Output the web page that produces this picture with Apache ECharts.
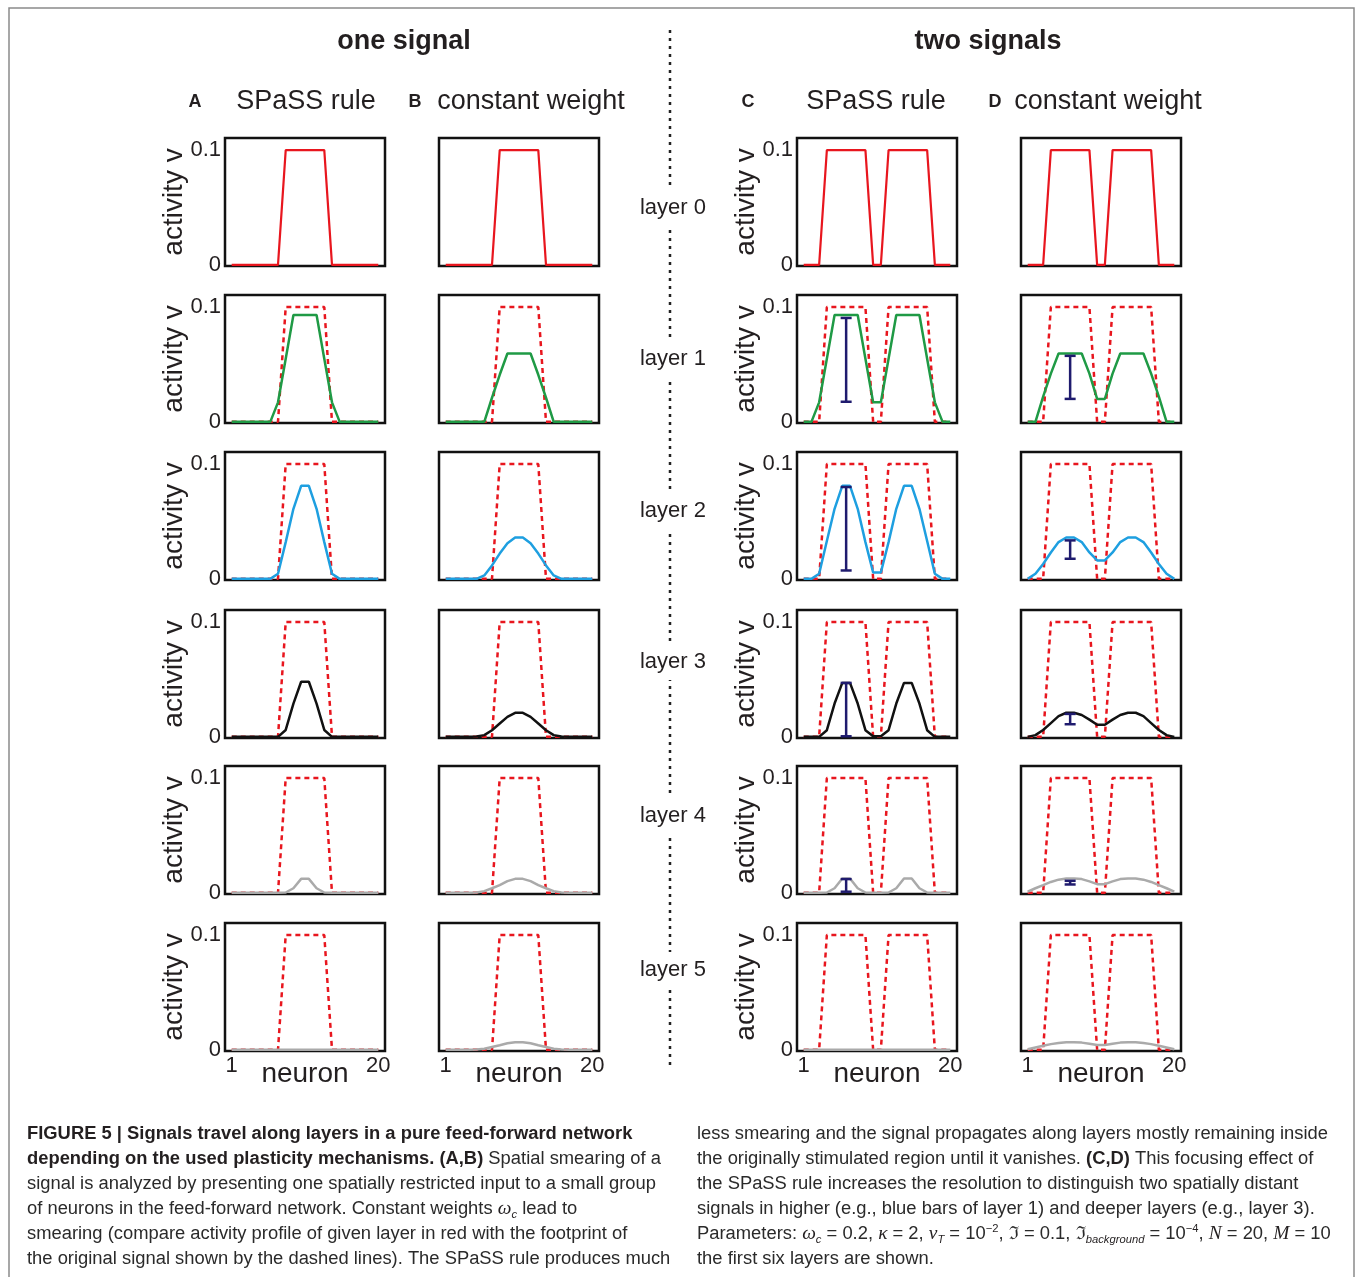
<!DOCTYPE html>
<html><head><meta charset="utf-8">
<script src="https://cdn.jsdelivr.net/npm/echarts@6/dist/echarts.min.js"></script>
<style>html,body{margin:0;padding:0;background:#fff}#c{width:1355px;height:1277px}</style>
</head><body><div id="c"></div>
<script>
// ---------------- data ----------------
const neurons = [1,2,3,4,5,6,7,8,9,10,11,12,13,14,15,16,17,18,19,20];
const footOne = [0,0,0,0,0,0,0,0.1,0.1,0.1,0.1,0.1,0.1,0,0,0,0,0,0,0];
const footTwo = [0,0,0,0.1,0.1,0.1,0.1,0.1,0.1,0,0,0.1,0.1,0.1,0.1,0.1,0.1,0,0,0];

const A1 = [0,0,0,0,0,0,0.017,0.055,0.093,0.093,0.093,0.093,0.055,0.017,0,0,0,0,0,0];
const A2 = [0,0,0,0,0,0,0.0044,0.032,0.061,0.081,0.081,0.061,0.032,0.0044,0,0,0,0,0,0];
const A3 = [0,0,0,0,0,0,0,0.006,0.029,0.048,0.048,0.029,0.006,0,0,0,0,0,0,0];
const A4 = [0,0,0,0,0,0,0,0.0003,0.004,0.0122,0.0122,0.004,0.0003,0,0,0,0,0,0,0];
const A5 = [0,0,0,0,0,0,0,0,0,0,0,0,0,0,0,0,0,0,0,0];

const B1 = [0,0,0,0,0,0,0.021,0.041,0.0595,0.0595,0.0595,0.0595,0.041,0.021,0,0,0,0,0,0];
const B2 = [0,0,0,0,0,0.003,0.0117,0.022,0.031,0.036,0.036,0.031,0.022,0.0117,0.003,0,0,0,0,0];
const B3 = [0,0,0,0,0.0003,0.0015,0.0058,0.0116,0.0174,0.0209,0.0209,0.0174,0.0116,0.0058,0.0015,0.0003,0,0,0,0];
const B4 = [0,0,0,0,0.0004,0.0015,0.004,0.0067,0.0102,0.0122,0.0122,0.0102,0.0067,0.004,0.0015,0.0004,0,0,0,0];
const B5 = [0,0,0,0.0001,0.0004,0.001,0.0025,0.004,0.0057,0.0067,0.0067,0.0057,0.004,0.0025,0.001,0.0004,0.0001,0,0,0];

const C1 = [0,0,0.017,0.055,0.093,0.093,0.093,0.093,0.055,0.017,0.017,0.055,0.093,0.093,0.093,0.093,0.055,0.017,0,0];
const C2 = [0,0,0.0044,0.033,0.061,0.081,0.081,0.061,0.032,0.0055,0.0055,0.032,0.061,0.081,0.081,0.061,0.033,0.0044,0,0];
const C3 = [0,0,0,0.0058,0.029,0.047,0.047,0.029,0.0058,0.0006,0.0006,0.0058,0.029,0.047,0.047,0.029,0.0058,0,0,0];
const C4 = [0,0,0,0.0003,0.004,0.0125,0.0125,0.004,0.0003,0,0,0.0003,0.004,0.0125,0.0125,0.004,0.0003,0,0,0];
const C5 = [0,0,0,0,0,0,0,0,0,0,0,0,0,0,0,0,0,0,0,0];

const D1 = [0,0,0.022,0.042,0.0595,0.0595,0.0595,0.0595,0.042,0.02,0.02,0.042,0.0595,0.0595,0.0595,0.0595,0.042,0.022,0,0];
const D2 = [0,0.0044,0.013,0.023,0.032,0.036,0.036,0.032,0.023,0.016,0.016,0.023,0.032,0.036,0.036,0.032,0.023,0.013,0.0044,0];
const D3 = [0,0.0015,0.006,0.012,0.018,0.021,0.021,0.019,0.015,0.0105,0.0105,0.015,0.019,0.021,0.021,0.018,0.012,0.006,0.0015,0];
const D4 = [0.001,0.004,0.0067,0.0095,0.0115,0.0125,0.0125,0.012,0.01,0.0076,0.0076,0.01,0.012,0.0125,0.0125,0.0115,0.0095,0.0067,0.004,0.001];
const D5 = [0.0005,0.002,0.0035,0.005,0.006,0.0067,0.0067,0.0063,0.0054,0.0043,0.0043,0.0054,0.0063,0.0067,0.0067,0.006,0.005,0.0035,0.002,0.0005];

// error bars at neuron 6.5: [top, bottom] for layers 1..4
const errX = 6.5;
const errC = [[0.0905,0.0175],[0.080,0.0073],[0.047,0.0005],[0.012,0.001]];
const errD = [[0.0575,0.020],[0.0335,0.0175],[0.020,0.011],[0.0105,0.0073]];

const yTickValues = [0, 0.1];
const xTickValues = [1, 20];
const layerNames = ['layer 0','layer 1','layer 2','layer 3','layer 4','layer 5'];
const groupTitles = ['one signal','two signals'];
const panelLetters = ['A','B','C','D'];
const panelTitles = ['SPaSS rule','constant weight','SPaSS rule','constant weight'];
const yAxisName = 'activity v';
const xAxisName = 'neuron';

const captionLeft = [
 '{b|FIGURE 5 | Signals travel along layers in a pure feed-forward network}',
 '{b|depending on the used plasticity mechanisms. (A,B)} Spatial smearing of a',
 'signal is analyzed by presenting one spatially restricted input to a small group',
 'of neurons in the feed-forward network. Constant weights {i|ω}{sub|c} lead to',
 'smearing (compare activity profile of given layer in red with the footprint of',
 'the original signal shown by the dashed lines). The SPaSS rule produces much'
];
const captionRight = [
 'less smearing and the signal propagates along layers mostly remaining inside',
 'the originally stimulated region until it vanishes. {b|(C,D)} This focusing effect of',
 'the SPaSS rule increases the resolution to distinguish two spatially distant',
 'signals in higher (e.g., blue bars of layer 1) and deeper layers (e.g., layer 3).',
 'Parameters: {i|ω}{sub|c} = 0.2, {i|κ} = 2, {i|v}{sub|T} = 10{sup|−2}, ℑ = 0.1, ℑ{subi|background} = 10{sup|−4}, {i|N} = 20, {i|M} = 10',
 'the first six layers are shown.'
];

// ---------------- layout / style ----------------
const FONT = '"Liberation Sans", Arial, Helvetica, sans-serif';
const SERIF = '"Liberation Serif", "Times New Roman", serif';
const TXT = '#231f20';
const colLeft = [225, 439, 797, 1021];
const rowTop = [138, 295, 452, 610, 766, 923];
const PW = 160, PH = 128;
const actColors = [null, '#1f9a45', '#1e9fe0', '#111111', '#aaaaaa', '#aaaaaa'];
const RED = '#e8161e';
const NAVY = '#1f1b6e';

const columns = [
  {foot: footOne, layers: [null, A1, A2, A3, A4, A5], err: null, yLab: true},
  {foot: footOne, layers: [null, B1, B2, B3, B4, B5], err: null, yLab: false},
  {foot: footTwo, layers: [null, C1, C2, C3, C4, C5], err: errC, yLab: true},
  {foot: footTwo, layers: [null, D1, D2, D3, D4, D5], err: errD, yLab: false}
];

const grids = [], xAxes = [], yAxes = [], series = [];
let gi = 0;
for (let r = 0; r < 6; r++) {
  for (let c = 0; c < 4; c++) {
    const col = columns[c];
    grids.push({left: colLeft[c], top: rowTop[r], width: PW, height: PH, show: true,
      borderColor: '#111', borderWidth: 2.5, backgroundColor: 'transparent', containLabel: false});
    xAxes.push({type: 'value', gridIndex: gi, min: 0.13, max: 20.87,
      axisLine: {show: false}, axisTick: {show: false}, splitLine: {show: false},
      axisLabel: {show: r === 5, customValues: xTickValues, fontSize: 22, color: TXT, margin: 4, fontFamily: FONT},
      name: r === 5 ? xAxisName : '', nameLocation: 'middle', nameGap: 9, nameMoveOverlap: false,
      nameTextStyle: {fontSize: 28, color: TXT, fontFamily: FONT, verticalAlign: 'top'}});
    yAxes.push({type: 'value', gridIndex: gi, min: -0.001, max: 0.1105,
      axisLine: {show: false}, axisTick: {show: false}, splitLine: {show: false},
      axisLabel: {show: col.yLab, customValues: yTickValues, fontSize: 22, color: TXT, margin: 4, fontFamily: FONT,
        formatter: v => (v === 0 ? '0' : String(v))},
      name: col.yLab ? yAxisName : '', nameLocation: 'middle', nameRotate: 90, nameGap: 37, nameMoveOverlap: false,
      nameTextStyle: {fontSize: 28, color: TXT, fontFamily: FONT}});
    series.push({type: 'line', xAxisIndex: gi, yAxisIndex: gi, silent: true, animation: false,
      symbol: 'none', z: 2,
      data: neurons.map((x, k) => [x, col.foot[k]]),
      lineStyle: {color: RED, width: r === 0 ? 2.2 : 2.5, type: r === 0 ? 'solid' : [5, 4]}});
    const act = col.layers[r];
    if (act) {
      series.push({type: 'line', xAxisIndex: gi, yAxisIndex: gi, silent: true, animation: false,
        symbol: 'none', z: 3,
        data: neurons.map((x, k) => [x, act[k]]),
        lineStyle: {color: actColors[r], width: 2.5}});
    }
    if (col.err && r >= 1 && r <= 4) {
      const e = col.err[r - 1];
      series.push({type: 'custom', xAxisIndex: gi, yAxisIndex: gi, silent: true, animation: false, z: 4,
        data: [[errX, e[0], e[1]]], encode: {x: 0, y: [1, 2]},
        renderItem: function (params, api) {
          const p1 = api.coord([api.value(0), api.value(1)]);
          const p2 = api.coord([api.value(0), api.value(2)]);
          const hw = 5.5;
          const st = {stroke: NAVY, lineWidth: 2.5};
          return {type: 'group', children: [
            {type: 'line', shape: {x1: p1[0], y1: p1[1], x2: p2[0], y2: p2[1]}, style: st},
            {type: 'line', shape: {x1: p1[0] - hw, y1: p1[1], x2: p1[0] + hw, y2: p1[1]}, style: st},
            {type: 'line', shape: {x1: p2[0] - hw, y1: p2[1], x2: p2[0] + hw, y2: p2[1]}, style: st}
          ]};
        }});
    }
    gi++;
  }
}

// ---------------- free text ----------------
const graphics = [];
graphics.push({type: 'polyline', silent: true, shape: {points: [[9, 1277], [9, 8], [1354, 8], [1354, 1277]]},
  style: {stroke: '#8a8a8a', lineWidth: 1.5, fill: null}});
graphics.push({type: 'line', silent: true, z: 1, shape: {x1: 670, y1: 30, x2: 670, y2: 1066},
  style: {stroke: '#222', lineWidth: 2.5, lineDash: [3, 5]}});
const layerY = [208, 359, 511, 662, 816, 970];
layerNames.forEach((t, i) => graphics.push({type: 'text', z: 5, x: 673, y: layerY[i],
  style: {text: t, font: '22px ' + FONT, fill: TXT, align: 'center', verticalAlign: 'middle',
    backgroundColor: '#fff', padding: [7, 3]}}));
graphics.push({type: 'text', z: 5, x: 404, y: 42, style: {text: groupTitles[0], font: 'bold 27px ' + FONT, fill: TXT, align: 'center', verticalAlign: 'middle'}});
graphics.push({type: 'text', z: 5, x: 988, y: 42, style: {text: groupTitles[1], font: 'bold 27px ' + FONT, fill: TXT, align: 'center', verticalAlign: 'middle'}});
const letterX = [195, 415, 748, 995];
const titleX = [306, 531, 876, 1108];
for (let c = 0; c < 4; c++) {
  graphics.push({type: 'text', z: 5, x: letterX[c], y: 102, style: {text: panelLetters[c], font: 'bold 18px ' + FONT, fill: TXT, align: 'center', verticalAlign: 'middle'}});
  graphics.push({type: 'text', z: 5, x: titleX[c], y: 102, style: {text: panelTitles[c], font: '27px ' + FONT, fill: TXT, align: 'center', verticalAlign: 'middle'}});
}

// caption
const CAP = 18;
const meas = document.createElement('canvas').getContext('2d');
meas.font = CAP + 'px ' + FONT;
const kScale = 629 / meas.measureText(captionLeft[2]).width;
const rich = {
  b: {fontWeight: 'bold', fontSize: CAP, fontFamily: FONT, fill: TXT, lineHeight: 22},
  i: {fontStyle: 'italic', fontSize: CAP + 1, fontFamily: SERIF, fill: TXT, lineHeight: 22},
  sub: {fontStyle: 'italic', fontSize: 11, fontFamily: FONT, fill: TXT, lineHeight: 10, verticalAlign: 'bottom'},
  subi: {fontStyle: 'italic', fontSize: 11, fontFamily: FONT, fill: TXT, lineHeight: 10, verticalAlign: 'bottom'},
  sup: {fontSize: 11, fontFamily: FONT, fill: TXT, lineHeight: 12, verticalAlign: 'top'}
};
function capLine(x, y, t) {
  graphics.push({type: 'text', z: 5, x: x, y: y, scaleX: kScale, originX: 0, originY: 0,
    style: {text: t, fontSize: CAP, fontFamily: FONT, fill: '#2a2a2a', align: 'left', verticalAlign: 'middle', lineHeight: 22, rich: rich}});
}
captionLeft.forEach((t, i) => capLine(27, 1134 + i * 25, t));
captionRight.forEach((t, i) => capLine(697, 1134 + i * 25, t));

const chart = echarts.init(document.getElementById('c'), null, {renderer: 'canvas'});
chart.setOption({animation: false, backgroundColor: '#fff', grid: grids, xAxis: xAxes, yAxis: yAxes, series: series, graphic: {elements: graphics}});
</script></body></html>
